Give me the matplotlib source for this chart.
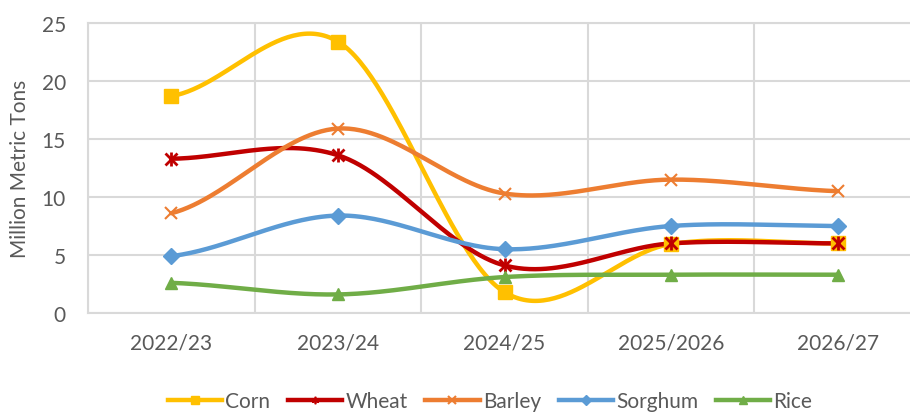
import numpy as np
import matplotlib
matplotlib.use("Agg")
import matplotlib.pyplot as plt

categories = ["2022/23", "2023/24", "2024/25", "2025/2026", "2026/27"]
corn = [18.7, 23.4, 1.8, 5.95, 6.0]
wheat = [13.3, 13.6, 4.1, 6.0, 6.0]
barley = [8.6, 15.9, 10.3, 11.5, 10.5]
sorghum = [4.9, 8.4, 5.5, 7.5, 7.5]
rice = [2.6, 1.6, 3.1, 3.3, 3.3]

series = [
    ("Corn", corn, "#FFC000", "s", 10),
    ("Wheat", wheat, "#C00000", (6, 2, 0), 9),
    ("Barley", barley, "#ED7D31", "x", 9),
    ("Sorghum", sorghum, "#5B9BD5", "D", 8),
    ("Rice", rice, "#70AD47", "^", 9),
]

def smooth(y, n=60):
    y = np.asarray(y, float)
    x = np.arange(len(y), dtype=float)
    m = np.zeros_like(y)
    m[1:-1] = (y[2:] - y[:-2]) / 2
    m[0] = (y[1] - y[0]) / 2
    m[-1] = (y[-1] - y[-2]) / 2
    xs, ys = [], []
    for i in range(len(y) - 1):
        t = np.linspace(0, 1, n, endpoint=(i == len(y) - 2))
        h00 = 2*t**3 - 3*t**2 + 1
        h10 = t**3 - 2*t**2 + t
        h01 = -2*t**3 + 3*t**2
        h11 = t**3 - t**2
        xs.append(x[i] + t)
        ys.append(h00*y[i] + h10*m[i] + h01*y[i+1] + h11*m[i+1])
    return np.concatenate(xs), np.concatenate(ys)

plt.rcParams['font.family'] = ['Lato', 'DejaVu Sans']
fig = plt.figure(figsize=(9.1, 4.14), dpi=100)
ax = fig.add_axes([88/910, 1-314/414, (921-88)/910, (314-24)/414])

grid_c = "#D9D9D9"
text_c = "#595959"
lw = 3.2
x = np.arange(len(categories))
handles = []
for name, vals, col, mk, ms in series:
    sx, sy = smooth(vals)
    ax.plot(sx, sy, color=col, lw=lw, solid_capstyle='round', zorder=3)
    if name == "Wheat":
        ax.plot(x, vals, linestyle='none', marker='x', color=col, ms=9, mew=2, zorder=4)
        ax.plot(x, vals, linestyle='none', marker='|', color=col, ms=10, mew=2, zorder=4)
        h, = ax.plot([], [], color=col, lw=lw, marker=(6, 2, 0), ms=ms, mew=1.2, label=name)
    elif mk == "x":
        ax.plot(x, vals, linestyle='none', marker='x', color=col, ms=ms, mew=1.5, zorder=4)
        h, = ax.plot([], [], color=col, lw=lw, marker='x', ms=ms, mew=1.5, label=name)
    else:
        ax.plot(x, vals, linestyle='none', marker=mk, color=col, ms=ms, zorder=4)
        h, = ax.plot([], [], color=col, lw=lw, marker=mk, ms=ms, label=name)
    handles.append(h)

ax.set_xlim(-0.5, 4.5)
ax.set_ylim(0, 25)
ax.set_yticks([0, 5, 10, 15, 20, 25])
ax.set_xticks(x)
ax.set_xticklabels(categories)
ax.set_xticks(np.arange(-0.5, 5, 1), minor=True)
ax.grid(True, axis='y', color=grid_c, lw=1.5)
ax.grid(True, axis='x', which='minor', color=grid_c, lw=1.5)
ax.tick_params(which='both', length=0)
ax.tick_params(axis='y', pad=16, labelsize=15, labelcolor=text_c)
ax.tick_params(axis='x', pad=14, labelsize=15, labelcolor=text_c)
for s in ax.spines.values():
    s.set_color(grid_c)
    s.set_linewidth(1.5)
ax.set_axisbelow(True)
ax.set_ylabel("Million Metric Tons", fontsize=15, color=text_c, labelpad=8)

leg = fig.legend(handles=handles, loc='center', bbox_to_anchor=(490/910, 1-402/414), ncol=5,
                 frameon=False, fontsize=15, handlelength=2.6, handletextpad=0.15,
                 columnspacing=0.85, markerscale=0.6)
for t in leg.get_texts():
    t.set_color(text_c)

fig.savefig("out.png", dpi=100)
